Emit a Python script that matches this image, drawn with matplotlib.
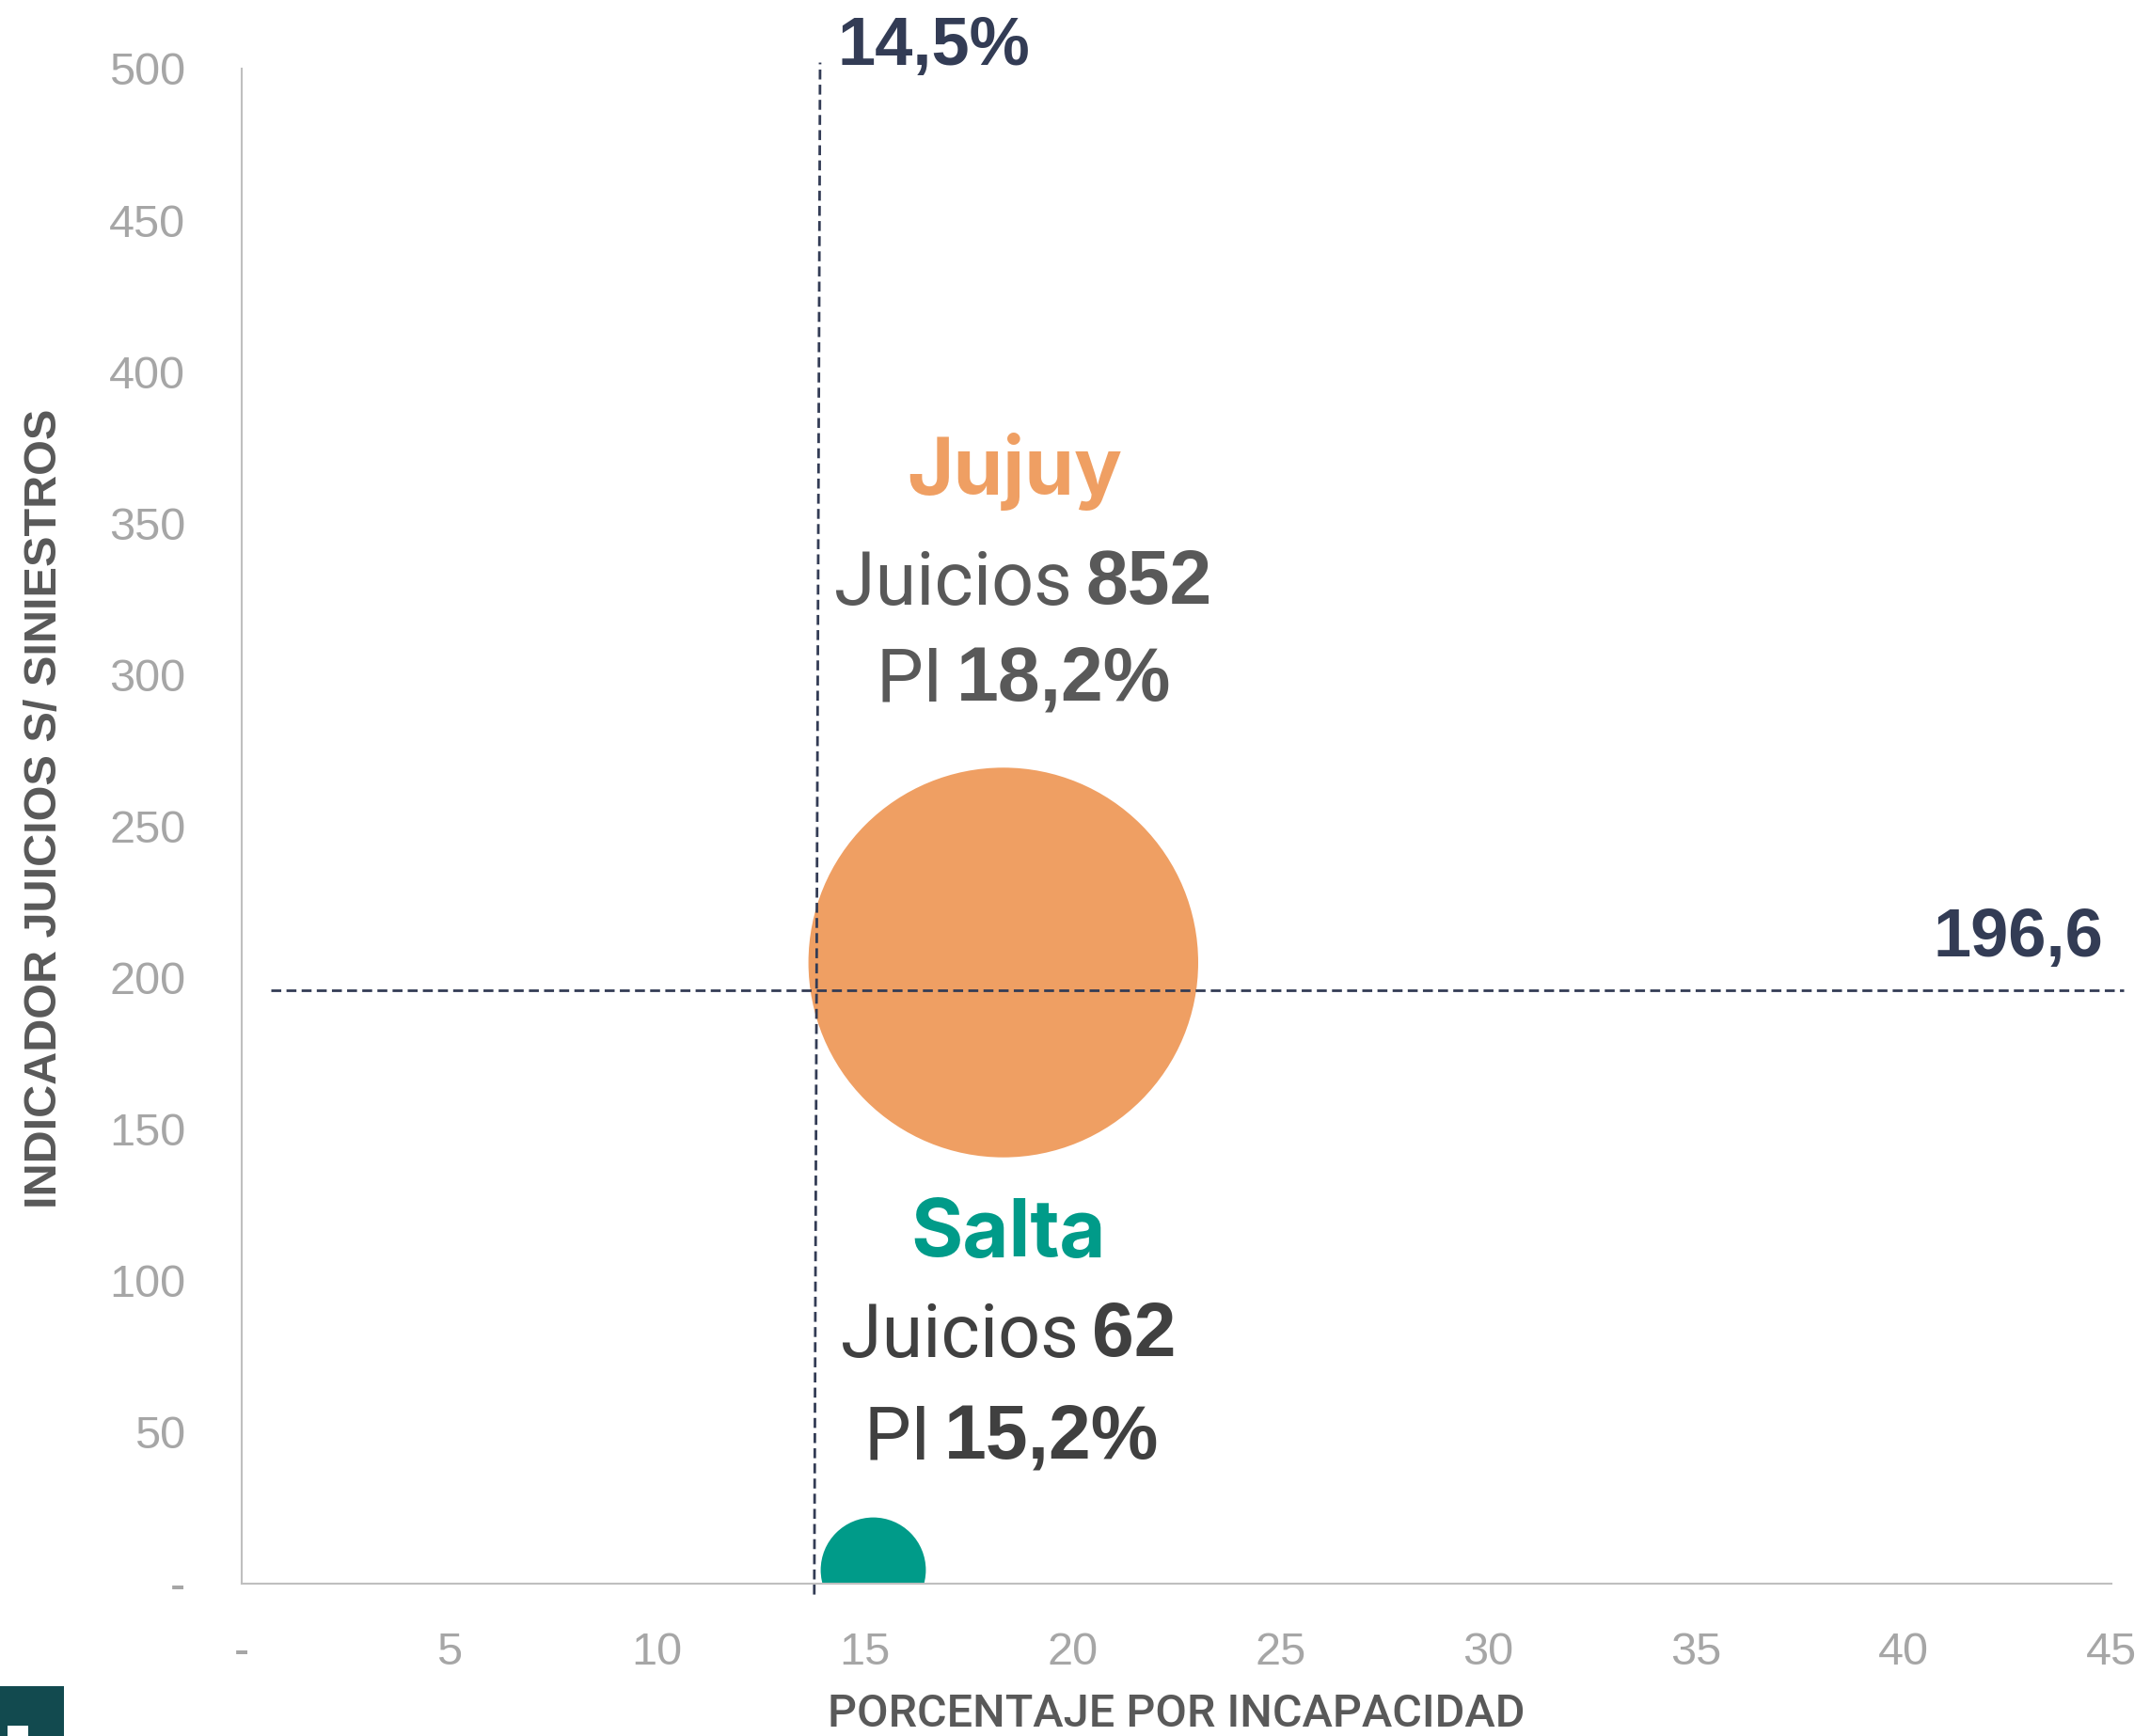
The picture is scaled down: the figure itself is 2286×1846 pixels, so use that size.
import matplotlib
matplotlib.use('Agg')
import matplotlib.pyplot as plt
from matplotlib.patches import Rectangle
from matplotlib.lines import Line2D

# data
provincias = ['Jujuy', 'Salta']
pi_pct = [18.33, 15.2]         # porcentaje por incapacidad (x)
indicador = [205, 4.5]         # indicador juicios s/ siniestros (y)
juicios = [852, 62]            # bubble size
colores = ['#EF9F63', '#009B89']
txt_colores = ['#595959', '#404040']
pi_labels = ['18,2%', '15,2%']
prom_x = 13.85                 # vertical reference (label 14,5%)
prom_x_label = '14,5%'
prom_y = 195.9                 # horizontal reference
prom_y_label = '196,6'

xticks = list(range(0, 50, 5))
yticks = list(range(0, 550, 50))

W, H = 2286, 1846
fig = plt.figure(figsize=(W / 100, H / 100), dpi=100)
ax = fig.add_axes([257 / W, 1 - 1684 / H, (2245 - 257) / W, (1684 - 73) / H])

ax.set_xlim(0, 45)
ax.set_ylim(0, 500)

# bubbles: area proportional to juicios
escala = 104.5
ax.scatter(pi_pct, indicador, s=[j * escala for j in juicios], c=colores,
           linewidths=0, zorder=2)

navy = '#333C55'
ax.add_line(Line2D([0.7, 45.3], [prom_y, prom_y], color=navy, lw=2,
                   ls=(0, (3.8, 2)), clip_on=False, zorder=3))
ax.add_line(Line2D([prom_x - 0.07, prom_x + 0.07], [-3.6, 502], color=navy, lw=2,
                   ls=(0, (3.8, 2)), clip_on=False, zorder=3))

ax.text(16.65, 507, prom_x_label, ha='center', va='center', fontsize=52,
        fontweight='bold', color=navy, family='Liberation Sans', clip_on=False)
ax.text(42.75, 213, prom_y_label, ha='center', va='center', fontsize=52,
        fontweight='bold', color=navy, family='Liberation Sans', clip_on=False)

# labels next to bubbles
name_pos = [(18.6, 367), (18.45, 115)]
juic_pos = [(20.15, 330), (20.3, 81.5)]
pi_pos = [(17.05, 298), (16.75, 48)]
for i in range(len(provincias)):
    ax.text(name_pos[i][0], name_pos[i][1], provincias[i], ha='center', va='center',
            fontsize=61, fontweight='bold', color=colores[i], family='Inter')
    ax.annotate('Juicios', xy=juic_pos[i], xytext=(-5, 0), textcoords='offset points',
                ha='right', va='center', fontsize=57, color=txt_colores[i],
                family='Roboto', fontweight='normal')
    ax.annotate(str(juicios[i]), xy=juic_pos[i], xytext=(5, 0), textcoords='offset points',
                ha='left', va='center', fontsize=58, color=txt_colores[i],
                family='Liberation Sans', fontweight='bold')
    ax.annotate('PI', xy=pi_pos[i], xytext=(-5, 0), textcoords='offset points',
                ha='right', va='center', fontsize=57, color=txt_colores[i],
                family='Roboto', fontweight='normal')
    ax.annotate(pi_labels[i], xy=pi_pos[i], xytext=(5, 0), textcoords='offset points',
                ha='left', va='center', fontsize=58, color=txt_colores[i],
                family='Liberation Sans', fontweight='bold')

# axes styling
for side in ['top', 'right']:
    ax.spines[side].set_visible(False)
for side in ['left', 'bottom']:
    ax.spines[side].set_color('#BFBFBF')
    ax.spines[side].set_linewidth(1.5)

ax.set_xticks(xticks)
ax.set_xticklabels(['-' if v == 0 else str(v) for v in xticks])
ax.set_yticks(yticks)
ax.set_yticklabels(['-' if v == 0 else str(v) for v in yticks])
ax.tick_params(axis='both', length=0, labelsize=35, labelcolor='#A6A6A6')
ax.tick_params(axis='y', pad=43)
ax.tick_params(axis='x', pad=37)
for lab in ax.get_xticklabels() + ax.get_yticklabels():
    lab.set_family('Liberation Sans')

fig.text(1251 / W, 1 - 1823 / H, 'PORCENTAJE POR INCAPACIDAD', ha='center', va='center',
         fontsize=35, color='#595959', family='Roboto', fontweight='medium')
fig.text(48 / W, 1 - 860 / H, 'INDICADOR JUICIOS S/ SINIESTROS', ha='center', va='center',
         rotation=90, fontsize=35, color='#595959', fontweight='bold',
         family='Liberation Sans')

# corner decoration
fig.patches.append(Rectangle((0, 0), 68 / W, 53 / H, transform=fig.transFigure,
                             facecolor='#124A4F', edgecolor='none'))
fig.patches.append(Rectangle((8 / W, 0), 22 / W, 11 / H, transform=fig.transFigure,
                             facecolor='white', edgecolor='none'))

fig.savefig('out.png', dpi=100, facecolor='white')
